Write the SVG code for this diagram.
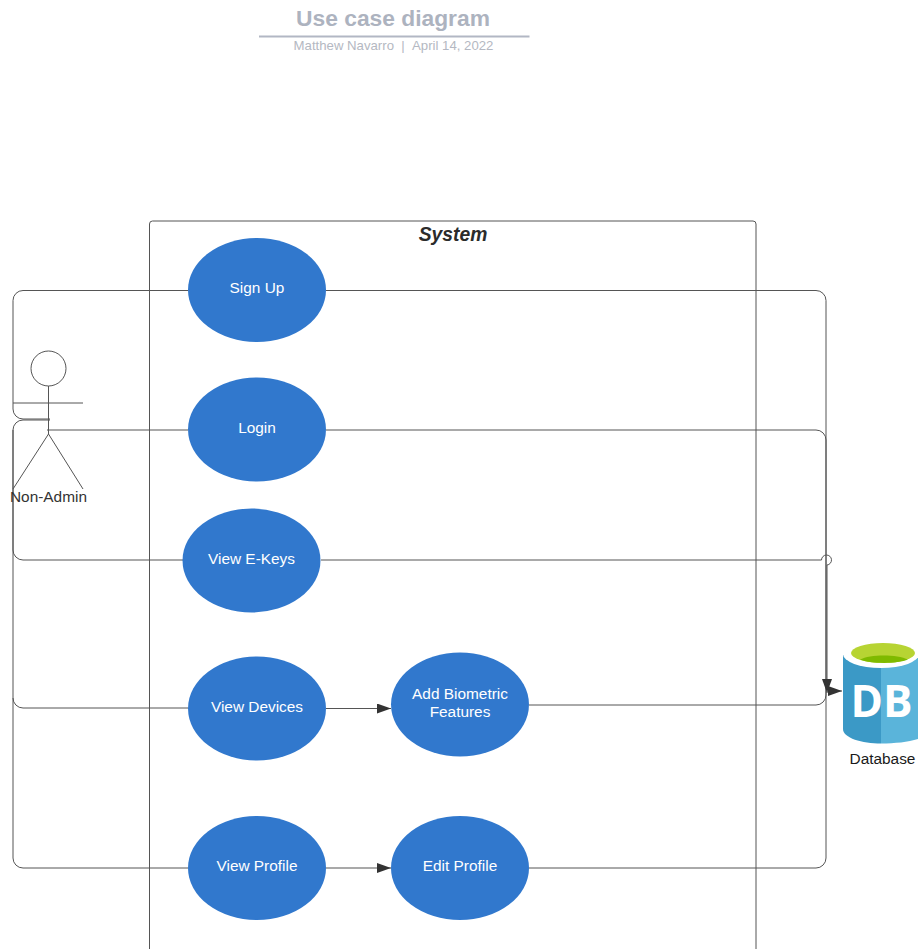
<svg xmlns="http://www.w3.org/2000/svg" width="918" height="949" viewBox="0 0 918 949">
<defs>
<marker id="arr" markerUnits="userSpaceOnUse" markerWidth="16" markerHeight="12" refX="14" refY="5" orient="auto"><path d="M0 0L14 5L0 10z" fill="#333"/></marker>
</defs>
<style>
text{font-family:"Liberation Sans",Arial,sans-serif}
.u{fill:#3178cd}
.ul{fill:#fff;font-size:15.4px;text-anchor:middle}
.c{fill:none;stroke:#555;stroke-width:1}
.a{fill:none;stroke:#555;stroke-width:1.1}
</style>
<rect width="918" height="949" fill="#fff"/>
<g id="title">
<text x="393" y="26" text-anchor="middle" font-size="22.8" font-weight="bold" fill="#adb3bf">Use case diagram</text>
<line x1="259" y1="36.500" x2="529.500" y2="36.500" stroke="#b2b7c4" stroke-width="2"/>
<text x="393.500" y="50" text-anchor="middle" font-size="13.200" fill="#b4b8c2">Matthew Navarro&#160;&#160;|&#160;&#160;April 14, 2022</text>
</g>
<g id="system">
<path d="M149.500 949V224a3 3 0 0 1 3-3H753a3 3 0 0 1 3 3V949" fill="none" stroke="#555" stroke-width="1"/>
<text x="453" y="241" text-anchor="middle" font-size="19.300" font-weight="bold" font-style="italic" fill="#2b2b2b">System</text>
</g>
<g id="connectors">
<path class="c" d="M188 290.500H23a10 10 0 0 0-10 10V409a10 10 0 0 0 10 10H50"/>
<path class="c" d="M50 420H23a10 10 0 0 0-10 10V550a10 10 0 0 0 10 10H183"/>
<path class="c" d="M13 430V698a10 10 0 0 0 10 10H188"/>
<path class="c" d="M13 698V858a10 10 0 0 0 10 10H188"/>
<line class="c" x1="47" y1="430" x2="188" y2="430"/>
<path class="c" d="M326 290.500H816a10 10 0 0 1 10 10V691"/>
<path class="c" d="M326 430H816a10 10 0 0 1 10 10V691"/>
<path class="c" d="M321 560H821.500a5 5 0 1 1 5.500 5V693" marker-end="url(#arr)"/>
<path class="c" d="M529 705H816a10 10 0 0 0 10-10V691"/>
<path class="c" d="M529 868H816a10 10 0 0 0 10-10V691H842" marker-end="url(#arr)"/>
<line class="a" x1="326" y1="708.500" x2="391" y2="708.500" marker-end="url(#arr)"/>
<line class="a" x1="326" y1="868" x2="391" y2="868" marker-end="url(#arr)"/>
</g>
<g id="actor" fill="none" stroke="#555" stroke-width="1">
<circle cx="48.500" cy="368.500" r="17.500"/>
<line x1="48.500" y1="386" x2="48.500" y2="434"/>
<line x1="13" y1="403" x2="83" y2="403"/>
<path d="M13 489L48.500 434L83 489"/>
<text x="48.500" y="501.500" text-anchor="middle" font-size="15.400" fill="#333" stroke="none">Non-Admin</text>
</g>
<g id="signup"><ellipse class="u" cx="257" cy="290" rx="69" ry="52"/><text class="ul" x="257" y="293">Sign Up</text></g>
<g id="login"><ellipse class="u" cx="257" cy="429.500" rx="69" ry="52"/><text class="ul" x="257" y="432.500">Login</text></g>
<g id="ekeys"><ellipse class="u" cx="251.500" cy="560.500" rx="69" ry="52"/><text class="ul" x="251.500" y="563.500">View E-Keys</text></g>
<g id="devices"><ellipse class="u" cx="257" cy="708.500" rx="69" ry="52"/><text class="ul" x="257" y="711.500">View Devices</text></g>
<g id="biometric"><ellipse class="u" cx="460" cy="704.500" rx="69" ry="52"/><text class="ul" x="460" y="698.500">Add Biometric</text><text class="ul" x="460" y="717">Features</text></g>
<g id="profile"><ellipse class="u" cx="257" cy="868" rx="69" ry="52"/><text class="ul" x="257" y="871">View Profile</text></g>
<g id="editprofile"><ellipse class="u" cx="460" cy="868" rx="69" ry="52"/><text class="ul" x="460" y="871">Edit Profile</text></g>
<g id="database">
<path d="M843 655V729C843 738 862 743.500 881 743.500V655z" fill="#3b99c6"/>
<path d="M881 655H918V739C908 742 895 743.500 881 743.500z" fill="#5ab4da"/>
<ellipse cx="881" cy="654" rx="38" ry="14" fill="#fff"/>
<ellipse cx="883" cy="653" rx="32" ry="10" fill="#b7d433"/>
<path d="M860 659.500C870 654 897 654 908 659.500C898 664 870 664 860 659.500z" fill="#7fba00"/>
<text x="881.500" y="717" text-anchor="middle" font-size="44" font-weight="bold" font-family="Open Sans" fill="#fff" style="font-family:'Open Sans',sans-serif">DB</text>
<text x="882.500" y="764" text-anchor="middle" font-size="15.400" fill="#1a1a1a">Database</text>
</g>
</svg>
